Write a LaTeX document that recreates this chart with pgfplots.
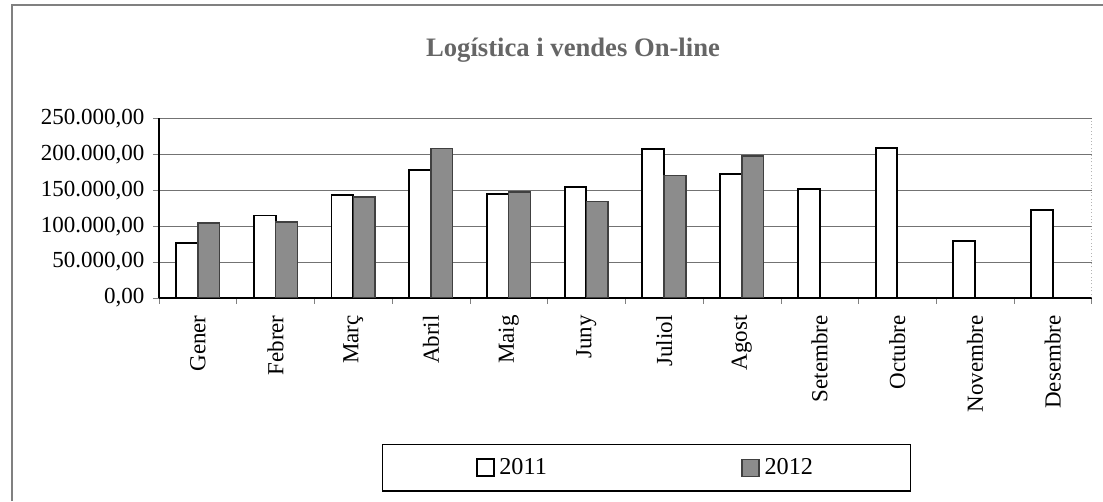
\documentclass[border=0pt]{standalone}
\usepackage{fontspec}
\setmainfont{Liberation Serif}
\usepackage{pgfplots}
\pgfplotsset{compat=1.18}
\definecolor{bar12}{gray}{0.55}
\def\u{0.014506cm}

\begin{document}
\begin{tikzpicture}
\useasboundingbox (0,0) rectangle ({1103*\u},{-501*\u});
% outer chart frame (left and top edges visible in the scan)
\draw[black!50, line width=0.5pt] ({12*\u},{-501*\u}) -- ({12*\u},{-5*\u}) -- ({1103*\u},{-5*\u});
\node[font=\bfseries\fontsize{11}{13}\selectfont, text=black!60] at ({573*\u},{-50*\u}) {Logística i vendes On-line};
\begin{axis}[
  at={(2.3065cm,-4.3228cm)}, anchor=south west,
  scale only axis, width=13.534cm, height=2.604cm,
  ybar=0pt, bar width=0.28,
  xmin=-0.5, xmax=11.5,
  ymin=0, ymax=250000,
  ytick={0,50000,...,250000},
  scaled y ticks=false,
  yticklabel style={/pgf/number format/.cd, fixed, fixed zerofill, precision=2,
    use comma, 1000 sep={.}, assume math mode=true},
  xtick={-0.5,0.5,...,11.5}, xticklabels={},
  extra x ticks={0,...,11},
  extra x tick labels={Gener,Febrer,Març,Abril,Maig,Juny,Juliol,Agost,Setembre,Octubre,Novembre,Desembre},
  extra x tick style={major tick length=0pt, grid=none,
    tick label style={rotate=90, anchor=east, inner xsep=7pt, font=\fontsize{9.5}{11}\selectfont}},
  tick label style={font=\fontsize{9.5}{11}\selectfont},
  tick align=outside, major tick length=2.5pt,
  axis x line*=bottom, axis y line*=left,
  axis line style={-, black, line width=0.6pt},
  ymajorgrids=true, xmajorgrids=false,
  grid style={black!55, line width=0.4pt},
  legend columns=2,
  legend style={at={(0.523,-0.947)}, anchor=center, draw=black, line width=0.5pt,
    font=\fontsize{10}{12}\selectfont, inner xsep=1.35cm, inner ysep=3.5pt,
    /tikz/every even column/.append style={column sep=2.75cm}},
  legend image code/.code={\draw[#1] (0pt,-3.5pt) rectangle (7pt,3.5pt);},
]
\addplot[draw=black, fill=white, line width=0.8pt] coordinates {
  (0,76500) (1,114800) (2,143300) (3,178300) (4,144300) (5,154000)
  (6,207600) (7,172000) (8,151800) (9,208500) (10,79000) (11,122500)
};
\addlegendentry{2011}
\addplot[draw=black!75, fill=bar12, line width=0.6pt] coordinates {
  (0,104600) (1,105500) (2,140500) (3,208200) (4,147500) (5,134000)
  (6,170700) (7,198000)
};
\addlegendentry{2012}
\draw[black!45, densely dotted] (rel axis cs:1,0) -- (rel axis cs:1,1);
\end{axis}
\end{tikzpicture}
\end{document}
